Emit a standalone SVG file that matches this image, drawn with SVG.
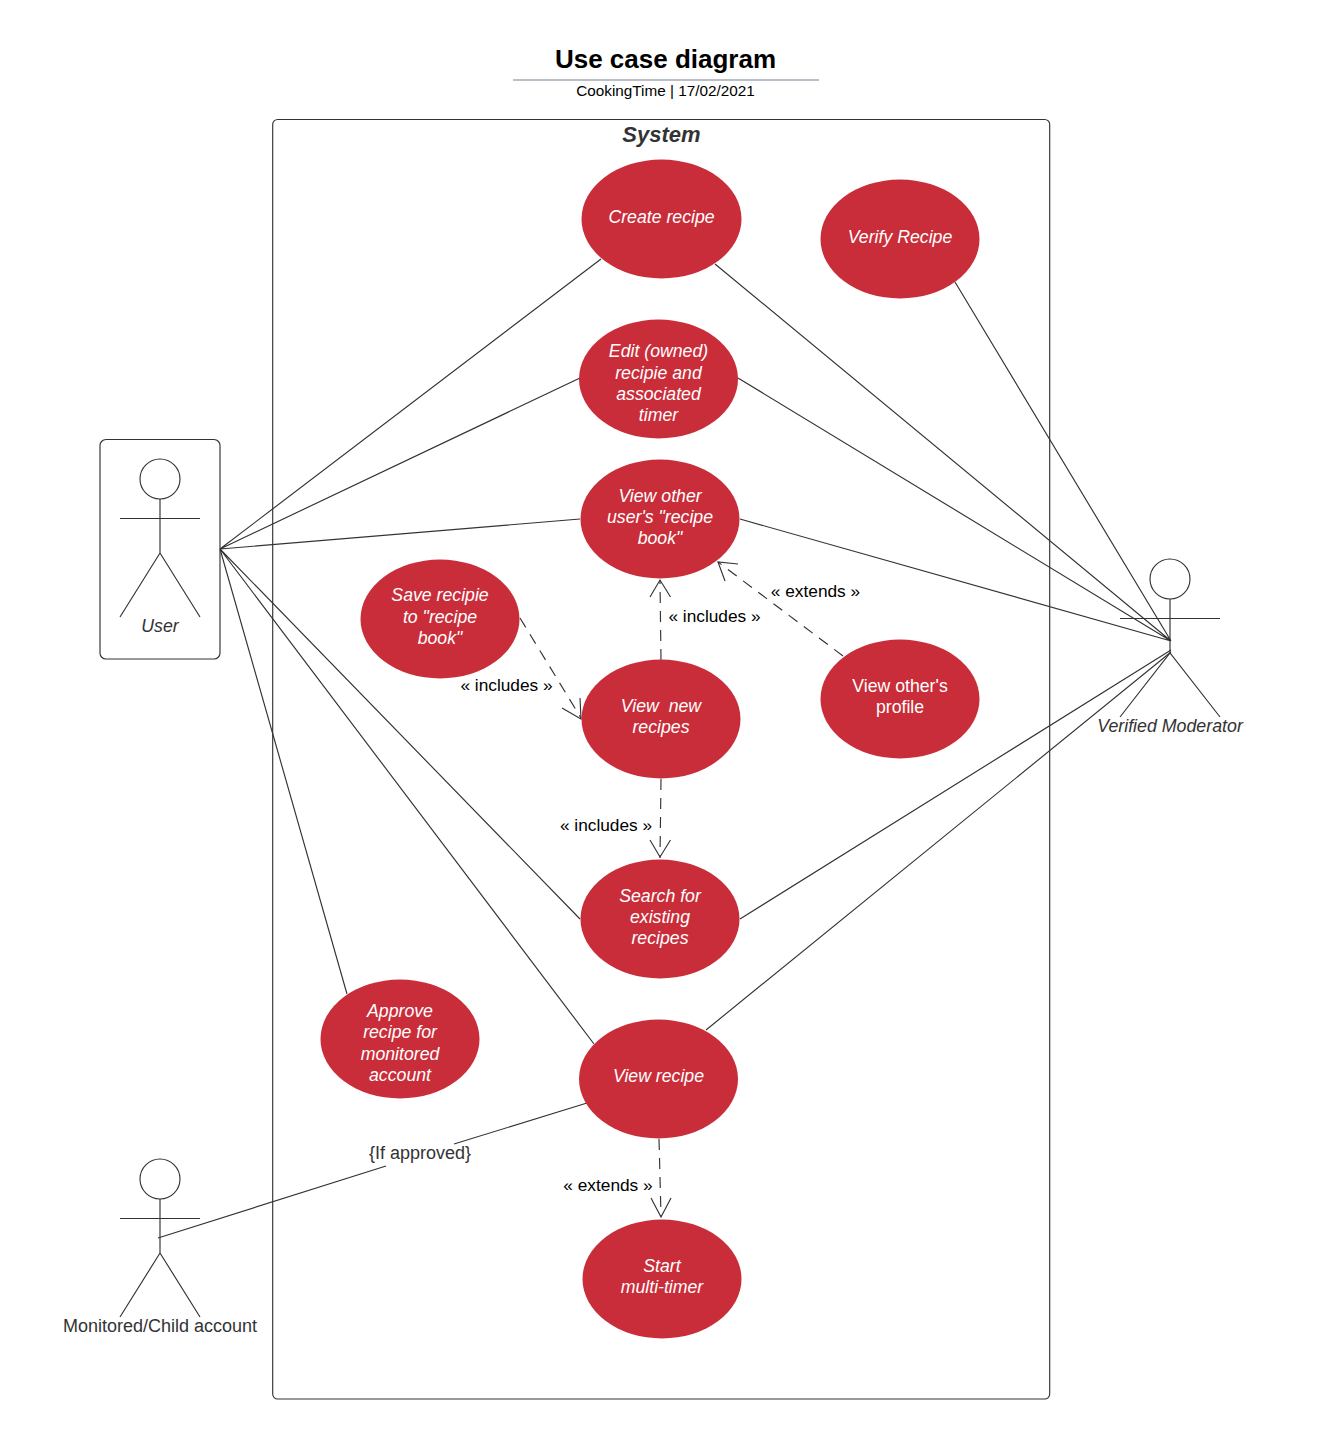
<svg xmlns="http://www.w3.org/2000/svg" width="1340" height="1439" viewBox="0 0 1340 1439">
<defs><style>
text{font-family:"Liberation Sans",Arial,sans-serif;text-anchor:middle}
.uc{fill:#c92d39}
.ut{fill:#fff;font-size:17.7px;font-style:italic}
.un{fill:#fff;font-size:17.7px}
.lb{fill:#000;font-size:17.3px}
.ln{fill:none;stroke:#333;stroke-width:1.150}
.da{fill:none;stroke:#333;stroke-width:1.150;stroke-dasharray:11 8}
.ah{fill:none;stroke:#333;stroke-width:1.150}
.ac{fill:#fff;stroke:#333;stroke-width:1.150}
.al{fill:#333;font-size:18px}
</style></defs>
<rect width="1340" height="1439" fill="#fff"/>
<g id="title">
<text x="665.500" y="68" font-size="26" font-weight="bold" fill="#000">Use case diagram</text>
<line x1="513" y1="80" x2="819" y2="80" stroke="#a3a9b6" stroke-width="1.500"/>
<text x="665.500" y="96" font-size="15.300" fill="#000">CookingTime | 17/02/2021</text>
</g>
<g id="system">
<rect x="272.700" y="119.500" width="777" height="1279.500" rx="5" fill="#fff" stroke="#333" stroke-width="1.150"/>
<text x="661.500" y="142" font-size="22px" font-weight="bold" font-style="italic" fill="#333">System</text>
</g>
<g id="user-frame"><rect x="100" y="439.500" width="120" height="219.500" rx="6" fill="#fff" stroke="#333" stroke-width="1.150"/></g>
<g id="connectors">
<path class="ln" d="M220 549L601 259M220 549L580 378M220 549L580 519M220 549L580 919M220 549L594 1044M220 549L347 994"/>
<path class="ln" d="M715 264L1171 641M738 378L1171 641M740 519L1171 641M955 282L1171 641M740 919L1171 650M706 1030L1171 652"/>
<path class="ln" d="M158 1238L386 1166M454 1144L587 1103"/>
<path class="da" d="M661 660L660 581"/><path class="ah" d="M650 597L660 580L670.500 597"/>
<path class="da" d="M843 656L718 562"/><path class="ah" d="M738 564L718 562L725 581"/>
<path class="da" d="M520 618L581 718"/><path class="ah" d="M562 708L581 719L580 698"/>
<path class="da" d="M661 779L660 858"/><path class="ah" d="M650 840L660 857L670.500 840"/>
<path class="da" d="M659 1139L661 1216"/><path class="ah" d="M651 1198L661 1217L671 1198"/>
</g>
<g id="create-recipe"><ellipse class="uc" cx="661.500" cy="219" rx="80" ry="59.500"/><text class="ut" x="661.500" y="223">Create recipe</text></g>
<g id="verify-recipe"><ellipse class="uc" cx="900" cy="239" rx="79.500" ry="59.500"/><text class="ut" x="900" y="243">Verify Recipe</text></g>
<g id="edit-recipe"><ellipse class="uc" cx="658.500" cy="379" rx="79.500" ry="59.500"/><text class="ut" x="658.500" y="357">Edit (owned)</text><text class="ut" x="658.500" y="378.500">recipie and</text><text class="ut" x="658.500" y="400">associated</text><text class="ut" x="658.500" y="421">timer</text></g>
<g id="view-other-book"><ellipse class="uc" cx="660" cy="519" rx="79.500" ry="59.500"/><text class="ut" x="660" y="502">View other</text><text class="ut" x="660" y="523">user's "recipe</text><text class="ut" x="660" y="544">book"</text></g>
<g id="save-recipe"><ellipse class="uc" cx="440" cy="619" rx="79.500" ry="59.500"/><text class="ut" x="440" y="601">Save recipie</text><text class="ut" x="440" y="623">to "recipe</text><text class="ut" x="440" y="644">book"</text></g>
<g id="view-new"><ellipse class="uc" cx="661" cy="719" rx="79.500" ry="59.500"/><text class="ut" x="661" y="712" xml:space="preserve">View  new</text><text class="ut" x="661" y="733">recipes</text></g>
<g id="view-profile"><ellipse class="uc" cx="900" cy="699" rx="79.500" ry="59.500"/><text class="un" x="900" y="692">View other's</text><text class="un" x="900" y="713">profile</text></g>
<g id="search"><ellipse class="uc" cx="660" cy="919" rx="79.500" ry="59.500"/><text class="ut" x="660" y="902">Search for</text><text class="ut" x="660" y="923">existing</text><text class="ut" x="660" y="944">recipes</text></g>
<g id="approve"><ellipse class="uc" cx="400" cy="1039" rx="79.500" ry="59.500"/><text class="ut" x="400" y="1017">Approve</text><text class="ut" x="400" y="1038">recipe for</text><text class="ut" x="400" y="1060">monitored</text><text class="ut" x="400" y="1081">account</text></g>
<g id="view-recipe"><ellipse class="uc" cx="658.500" cy="1079" rx="79.500" ry="59.500"/><text class="ut" x="658.500" y="1082">View recipe</text></g>
<g id="multi-timer"><ellipse class="uc" cx="662" cy="1279" rx="79.500" ry="59.500"/><text class="ut" x="662" y="1272">Start</text><text class="ut" x="662" y="1293">multi-timer</text></g>
<g id="labels">
<text class="lb" x="714.500" y="622">« includes »</text>
<text class="lb" x="815.500" y="597">« extends »</text>
<text class="lb" x="506.500" y="691">« includes »</text>
<text class="lb" x="606" y="831">« includes »</text>
<text class="lb" x="608" y="1191">« extends »</text>
<text class="al" x="420" y="1159">{If approved}</text>
</g>
<g id="actor-user"><circle class="ac" cx="160" cy="479" r="20"/><path class="ln" d="M160 499V553M120 518.500H200M120 617L160 553L200 617"/><text class="al" x="160" y="632" font-style="italic" style="font-size:17.7px">User</text></g>
<g id="actor-moderator"><circle class="ac" cx="1170" cy="579" r="20"/><path class="ln" d="M1170 599V653M1120 618.500H1220M1120 717L1170 653L1220 717"/><text class="al" x="1170" y="732" font-style="italic" style="font-size:17.8px">Verified Moderator</text></g>
<g id="actor-child"><circle class="ac" cx="160" cy="1179" r="20"/><path class="ln" d="M160 1199V1253M120 1218.500H200M120 1317L160 1253L200 1317"/><text class="al" x="160" y="1332">Monitored/Child account</text></g>
</svg>
